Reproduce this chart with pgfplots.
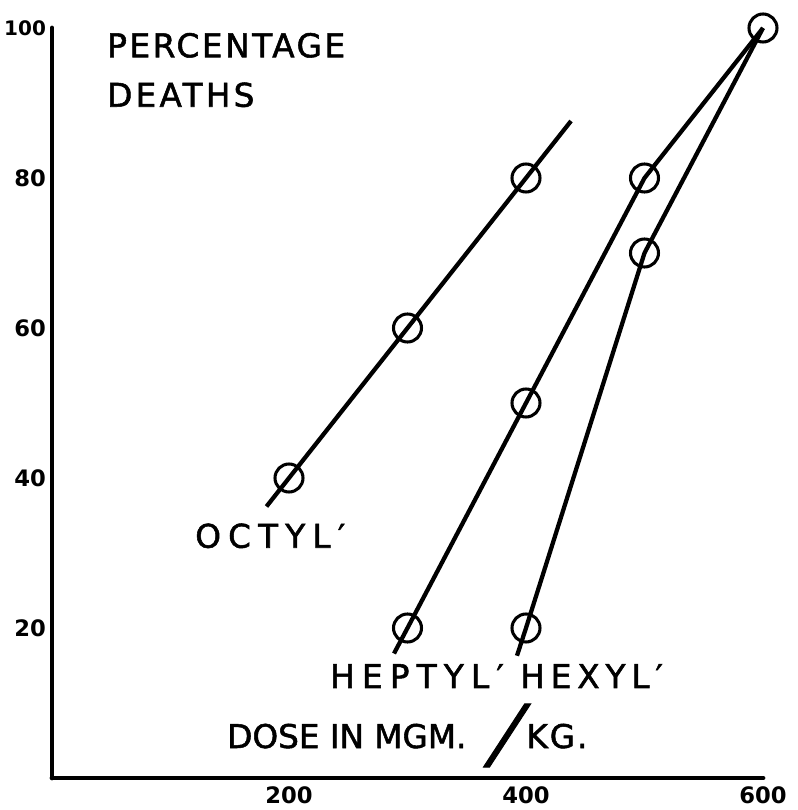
\documentclass[border=0pt]{standalone}
\usepackage{pgfplots}
\pgfplotsset{compat=1.18}
\usepackage{fontspec}
\setmainfont{DejaVu Sans}
\newfontfamily\labf{DejaVu Sans}[FakeBold=1.6]
\tikzset{lbl/.style={anchor=base west, inner sep=0pt, font=\labf\fontsize{24.5}{24.5}\selectfont}}
\begin{document}
\begin{tikzpicture}
\begin{axis}[
  scale only axis, width=533.25pt, height=562.5pt,
  xmin=0, xmax=600, ymin=0, ymax=100,
  axis lines*=left,
  axis line style={line width=3.6pt, line cap=round},
  xtick={200,400,600}, ytick={20,40,60,80,100},
  yticklabels={20,40,60,80,{\fontsize{15}{15}\selectfont 100}},
  major tick length=0pt,
  /pgf/number format/assume math mode=true,
  tick label style={font=\bfseries\fontsize{17}{17}\selectfont},
  yticklabel style={xshift=-1pt},
  xticklabel style={yshift=-3pt},
  clip=false,
]
\coordinate (O) at (rel axis cs:0,0);
% Octyl
\addplot[black, line width=3.2pt] coordinates {(181,36.2)(200,40)(300,60)(400,80)(438,87.6)};
% Heptyl
\addplot[black, line width=3.2pt] coordinates {(288.6,16.6)(300,20)(400,50)(500,80)(600,100)};
% Hexyl
\addplot[black, line width=3.2pt] coordinates {(392.4,16.3)(400,20)(500,70)(600,100)};
% observed points
\addplot[only marks, mark=o, mark size=10.5pt, mark options={line width=2.3pt, black}]
  coordinates {(200,40)(300,60)(400,80)(300,20)(400,50)(500,80)(600,100)(400,20)(500,70)};

\node[lbl] at (axis cs:46.4,96.1) {\addfontfeatures{LetterSpace=8}PERCENTAGE};
\node[lbl] at (axis cs:46.4,89.5) {\addfontfeatures{LetterSpace=10}DEATHS};
\node[lbl] at (axis cs:120.7,30.7) {\addfontfeatures{LetterSpace=22}OCTYL′};
\node[lbl] at (axis cs:234.6,12.0) {\addfontfeatures{LetterSpace=22}HEPTYL′};
\node[lbl] at (axis cs:395,12.0) {\addfontfeatures{LetterSpace=18}HEXYL′};
\node[lbl] at (axis cs:147.7,4.0) {DOSE IN MGM.\hspace{15pt}\raisebox{-4.6pt}[0pt][0pt]{\scalebox{2.1}[1.66]{╱}}\hspace{-1pt}\addfontfeatures{LetterSpace=6}KG.};
\end{axis}
\pgfresetboundingbox
\path ([shift={(-39pt,-24pt)}]O) rectangle ++(598.5pt,607.5pt);
\end{tikzpicture}
\end{document}
